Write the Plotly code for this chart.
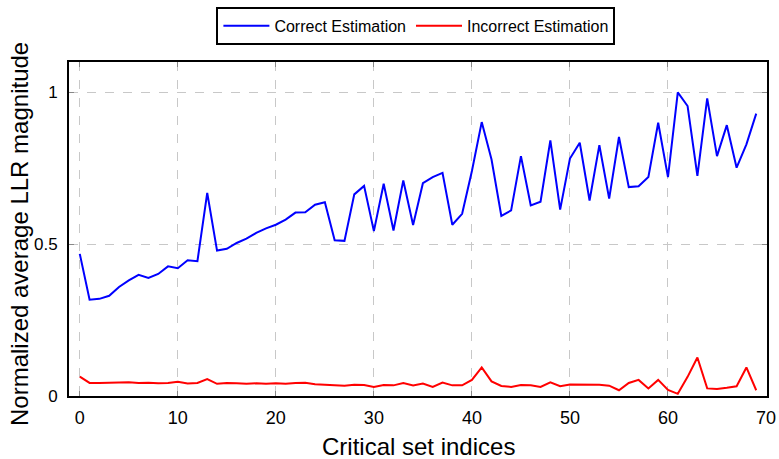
import plotly.graph_objects as go

# Critical set index for each sample
indices = list(range(70))

# Normalized average LLR magnitude, correct estimation
correct = [
    0.468, 0.317, 0.320, 0.330, 0.359, 0.381, 0.399, 0.389, 0.402, 0.427,
    0.421, 0.447, 0.444, 0.669, 0.479, 0.485, 0.504, 0.518, 0.537, 0.552,
    0.564, 0.581, 0.604, 0.605, 0.630, 0.638, 0.513, 0.511, 0.664, 0.692,
    0.543, 0.699, 0.545, 0.710, 0.563, 0.701, 0.721, 0.735, 0.564, 0.600,
    0.741, 0.902, 0.779, 0.593, 0.611, 0.790, 0.628, 0.640, 0.842, 0.614,
    0.782, 0.834, 0.644, 0.826, 0.650, 0.853, 0.688, 0.691, 0.721, 0.900,
    0.721, 1.000, 0.955, 0.725, 0.980, 0.790, 0.892, 0.752, 0.829, 0.930,
]

# Normalized average LLR magnitude, incorrect estimation
incorrect = [
    0.064, 0.043, 0.043, 0.044, 0.046, 0.045, 0.043, 0.044, 0.042, 0.043,
    0.047, 0.041, 0.043, 0.056, 0.040, 0.043, 0.042, 0.040, 0.042, 0.040,
    0.042, 0.040, 0.043, 0.044, 0.039, 0.037, 0.035, 0.034, 0.037, 0.036,
    0.030, 0.036, 0.035, 0.043, 0.035, 0.041, 0.030, 0.044, 0.035, 0.035,
    0.053, 0.094, 0.048, 0.033, 0.030, 0.036, 0.035, 0.030, 0.045, 0.032,
    0.038, 0.038, 0.036, 0.037, 0.034, 0.019, 0.043, 0.053, 0.025, 0.053,
    0.020, 0.007, 0.063, 0.127, 0.025, 0.023, 0.027, 0.032, 0.094, 0.019,
]

x_ticks = [0, 10, 20, 30, 40, 50, 60, 70]
y_ticks = [0, 0.5, 1]
y_tick_text = ["0", "0.5", "1"]

FONT = "Liberation Sans, Arial, sans-serif"

fig = go.Figure()
fig.add_trace(go.Scatter(x=indices, y=correct, mode="lines",
                         name="Correct Estimation",
                         line=dict(color="#0000ff", width=2)))
fig.add_trace(go.Scatter(x=indices, y=incorrect, mode="lines",
                         name="Incorrect Estimation",
                         line=dict(color="#ff0000", width=2)))

axis_common = dict(
    showline=True, linecolor="black", linewidth=2, mirror="allticks",
    ticks="inside", ticklen=5, tickcolor="#888888", tickwidth=1,
    showgrid=True, gridcolor="#c8c8c8", griddash="dash", gridwidth=1,
    zeroline=False, automargin=False,
)

fig.update_xaxes(range=[-1.1, 70.1], tickvals=x_ticks,
                 tickfont=dict(family=FONT, size=18, color="black"),
                 ticklabelstandoff=4,
                 **axis_common)
fig.update_yaxes(range=[0, 1.1], tickvals=y_ticks, ticktext=y_tick_text,
                 tickfont=dict(family=FONT, size=17, color="black"),
                 ticklabelstandoff=6,
                 **axis_common)

# Axis titles
fig.add_annotation(text="Critical set indices", xref="paper", yref="paper",
                   x=0.5, y=-0.151, xanchor="center", yanchor="middle",
                   showarrow=False,
                   font=dict(family=FONT, size=24, color="black"))
fig.add_annotation(text="Normalized average LLR magnitude", xref="paper",
                   yref="paper", x=-0.0716, y=0.485, xanchor="center",
                   yanchor="middle", textangle=-90, showarrow=False,
                   font=dict(family=FONT, size=24, color="black"))

fig.update_layout(
    width=779, height=459,
    margin=dict(l=69, r=12, t=62, b=63, autoexpand=False),
    plot_bgcolor="white", paper_bgcolor="white",
    font=dict(family=FONT, color="black"),
    legend=dict(orientation="h", x=0.497, y=0.985, xanchor="center",
                yanchor="top", yref="container",
                bordercolor="black", borderwidth=2,
                bgcolor="white", font=dict(family=FONT, size=16),
                itemwidth=46),
    showlegend=True,
)

fig.write_html("out.html")
